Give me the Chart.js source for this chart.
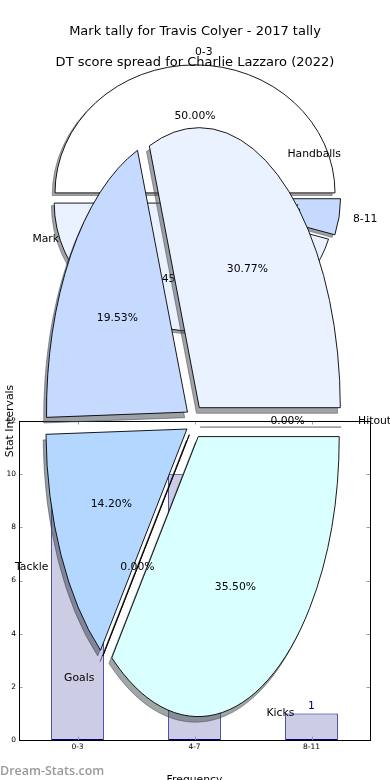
<!DOCTYPE html>
<html>
<head>
<meta charset="utf-8">
<script src="https://cdn.jsdelivr.net/npm/chart.js@4.4.0/dist/chart.umd.min.js"></script>
<style>
  html, body { margin: 0; padding: 0; background: #fff; }
  #wrap { position: relative; width: 390px; height: 780px; overflow: hidden; }
  #wrap canvas { position: absolute; left: 0; top: 0; }
</style>
</head>
<body>
<div id="wrap">
  <canvas id="bars" width="390" height="780"></canvas>
  <canvas id="pie1" width="390" height="780"></canvas>
  <canvas id="pie2" width="390" height="780"></canvas>
</div>
<script>
// mark tally (bars + first pie)
var markBins = ['0-3', '4-7', '8-11'];
var markCounts = [11, 10, 1];
var yTicks = [0, 2, 4, 6, 8, 10, 12];

// DT score spread (second pie)
var statLabels = ['Handballs', 'Mark', 'Tackle', 'Goals', 'Kicks', 'Hitout'];
var statShares = [30.77, 19.53, 14.20, 0, 35.50, 0];

var FONT = "'DejaVu Sans', sans-serif";
Chart.defaults.font.family = FONT;

function shadowOf(hex) {
  var n = parseInt(hex.slice(1), 16);
  var r = (n >> 16) & 255, g = (n >> 8) & 255, b = n & 255;
  return 'rgba(' + Math.round(r * 0.3) + ',' + Math.round(g * 0.3) + ',' + Math.round(b * 0.3) + ',0.5)';
}

// draws the pie stretched into an ellipse, counter-clockwise, exploded, with shadows
var explodedPie = {
  id: 'explodedPie',
  beforeDatasetsDraw: function (chart, args, opts) {
    var ctx = chart.ctx;
    var ds = chart.data.datasets[0];
    var arcs = chart.getDatasetMeta(0).data;
    var total = ds.data.reduce(function (s, v) { return s + v; }, 0);
    var cx = arcs[0].x, cy = arcs[0].y, R = arcs[0].outerRadius;
    var k = opts.aspect;

    var geo = arcs.map(function (a, i) {
      var mid = (a.startAngle + a.endAngle) / 2;
      var e = opts.explode[i] * R;
      return { a: a, mid: mid, ex: Math.cos(mid) * e, ey: Math.sin(mid) * e };
    });

    function wedgePath(g, sx, sy) {
      ctx.save();
      ctx.translate(cx + sx, cy + sy);
      ctx.scale(1, -k);
      ctx.translate(g.ex, g.ey);
      ctx.beginPath();
      ctx.moveTo(0, 0);
      ctx.arc(0, 0, R, g.a.startAngle, g.a.endAngle);
      ctx.closePath();
      ctx.restore();
    }

    // shadows under every wedge
    geo.forEach(function (g, i) {
      var col = shadowOf(ds.backgroundColor[i]);
      wedgePath(g, -0.02 * R, 0.02 * R * k);
      ctx.fillStyle = col;
      ctx.strokeStyle = col;
      ctx.lineWidth = 1;
      if (g.a.circumference > 0) ctx.fill();
      ctx.stroke();
    });

    // wedges
    geo.forEach(function (g, i) {
      ctx.save();
      ctx.translate(cx, cy);
      ctx.scale(1, -k);
      ctx.translate(g.ex, g.ey);
      ctx.translate(-cx, -cy);
      g.a.draw(ctx);
      ctx.restore();
      wedgePath(g, 0, 0);
      ctx.strokeStyle = '#000';
      ctx.lineWidth = 0.9;
      ctx.stroke();
    });

    // labels and percentages
    ctx.font = opts.font;
    ctx.fillStyle = '#000';
    ctx.textBaseline = 'middle';
    geo.forEach(function (g, i) {
      var c = Math.cos(g.mid), s = Math.sin(g.mid);
      var bx = cx + g.ex, by = cy - k * g.ey;
      ctx.textAlign = c > 0 ? 'left' : 'right';
      ctx.fillText(chart.data.labels[i], bx + 1.1 * R * c, by - 1.1 * k * R * s);
      ctx.textAlign = 'center';
      ctx.fillText((ds.data[i] / total * 100).toFixed(2) + '%', bx + 0.6 * R * c, by - 0.6 * k * R * s);
    });
    return false;
  }
};

function pieOptions(padding, aspect, explode) {
  return {
    responsive: false,
    animation: false,
    events: [],
    devicePixelRatio: 1,
    rotation: 90,
    layout: { padding: padding },
    plugins: {
      legend: { display: false },
      tooltip: { enabled: false },
      explodedPie: { aspect: aspect, explode: explode, font: '10.8px ' + FONT }
    }
  };
}

// bar chart frame: spines, inward ticks, value labels, axis titles, watermark
var axesFrame = {
  id: 'axesFrame',
  afterDraw: function (chart) {
    var ctx = chart.ctx, a = chart.chartArea;
    var xs = chart.scales.x, ys = chart.scales.y;
    ctx.save();
    ctx.strokeStyle = '#999';
    ctx.lineWidth = 1;
    ctx.beginPath();
    xs.ticks.forEach(function (t, i) {
      var px = Math.round(xs.getPixelForTick(i)) + 0.5;
      ctx.moveTo(px, a.bottom); ctx.lineTo(px, a.bottom - 3.5);
      ctx.moveTo(px, a.top); ctx.lineTo(px, a.top + 3.5);
    });
    ys.ticks.forEach(function (t) {
      var py = Math.round(ys.getPixelForValue(t.value)) + 0.5;
      ctx.moveTo(a.left, py); ctx.lineTo(a.left + 3.5, py);
      ctx.moveTo(a.right, py); ctx.lineTo(a.right - 3.5, py);
    });
    ctx.stroke();

    ctx.strokeStyle = '#000';
    ctx.strokeRect(Math.round(a.left) + 0.5, Math.round(a.top) + 0.5,
                   Math.round(a.right - a.left), Math.round(a.bottom - a.top));

    // value labels
    var ds = chart.data.datasets[0];
    ctx.font = '10.8px ' + FONT;
    ctx.fillStyle = '#000080';
    ctx.textAlign = 'center';
    ctx.textBaseline = 'alphabetic';
    chart.getDatasetMeta(0).data.forEach(function (b, i) {
      ctx.fillText(String(ds.data[i]), b.x, b.y - 4);
    });

    // axis titles
    ctx.fillStyle = '#000';
    ctx.fillText('Frequency', (a.left + a.right) / 2, 783);
    ctx.save();
    ctx.translate(10.5, a.top);
    ctx.rotate(-Math.PI / 2);
    ctx.textBaseline = 'middle';
    ctx.fillText('Stat Intervals', 0, 0);
    ctx.restore();

    // watermark
    ctx.font = "600 12.5px 'Open Sans', sans-serif";
    ctx.fillStyle = '#9a9a9a';
    ctx.textAlign = 'left';
    ctx.fillText('Dream-Stats.com', 0, 775);
    ctx.restore();
  }
};

var pageTitles = {
  id: 'pageTitles',
  afterDraw: function (chart) {
    var ctx = chart.ctx;
    ctx.save();
    ctx.font = '13px ' + FONT;
    ctx.fillStyle = '#000';
    ctx.textAlign = 'center';
    ctx.textBaseline = 'alphabetic';
    ctx.fillText('Mark tally for Travis Colyer - 2017 tally', 195, 34.5);
    ctx.fillText('DT score spread for Charlie Lazzaro (2022)', 195, 65.5);
    ctx.restore();
  }
};

new Chart(document.getElementById('bars'), {
  type: 'bar',
  data: {
    labels: markBins,
    datasets: [{
      data: markCounts,
      backgroundColor: '#ccccE5',
      borderColor: '#000080',
      borderWidth: 1,
      borderSkipped: false,
      barPercentage: 0.45,
      categoryPercentage: 1
    }]
  },
  options: {
    responsive: false,
    animation: false,
    events: [],
    devicePixelRatio: 1,
    layout: { padding: { left: 0, top: 421, right: 20, bottom: 0 } },
    plugins: { legend: { display: false }, tooltip: { enabled: false } },
    scales: {
      x: {
        grid: { display: false, drawTicks: false },
        border: { display: false },
        ticks: { color: '#000', font: { size: 7.5 }, padding: 3, maxRotation: 0 },
        afterFit: function (s) { s.height = 40; }
      },
      y: {
        min: yTicks[0],
        max: yTicks[yTicks.length - 1],
        grid: { display: false, drawTicks: false },
        border: { display: false },
        ticks: { stepSize: yTicks[1] - yTicks[0], color: '#000', font: { size: 7.5 }, padding: 3 },
        afterFit: function (s) { s.width = 19; }
      }
    }
  },
  plugins: [axesFrame]
});

new Chart(document.getElementById('pie1'), {
  type: 'pie',
  data: {
    labels: markBins,
    datasets: [{
      data: markCounts,
      backgroundColor: ['#ffffff', '#ebf2ff', '#c6daff'],
      borderWidth: 0,
      hoverBorderWidth: 0,
      offset: 0,
      hoverOffset: 0
    }]
  },
  options: pieOptions({ left: 55, right: 55, top: 58, bottom: 442 }, 128 / 140, [0.04, 0.04, 0.04]),
  plugins: [explodedPie]
});

new Chart(document.getElementById('pie2'), {
  type: 'pie',
  data: {
    labels: statLabels,
    datasets: [{
      data: statShares,
      backgroundColor: ['#eaf1ff', '#c6daff', '#b3d7ff', '#cce0ff', '#d9ffff', '#e0e0ff'],
      borderWidth: 0,
      hoverBorderWidth: 0,
      offset: 0,
      hoverOffset: 0
    }]
  },
  options: pieOptions({ left: 53.5, right: 54.5, top: 280.5, bottom: 217.5 }, 280 / 141, [0.06, 0.06, 0.06, 0.06, 0.06, 0.06]),
  plugins: [explodedPie, pageTitles]
});
</script>
</body>
</html>
